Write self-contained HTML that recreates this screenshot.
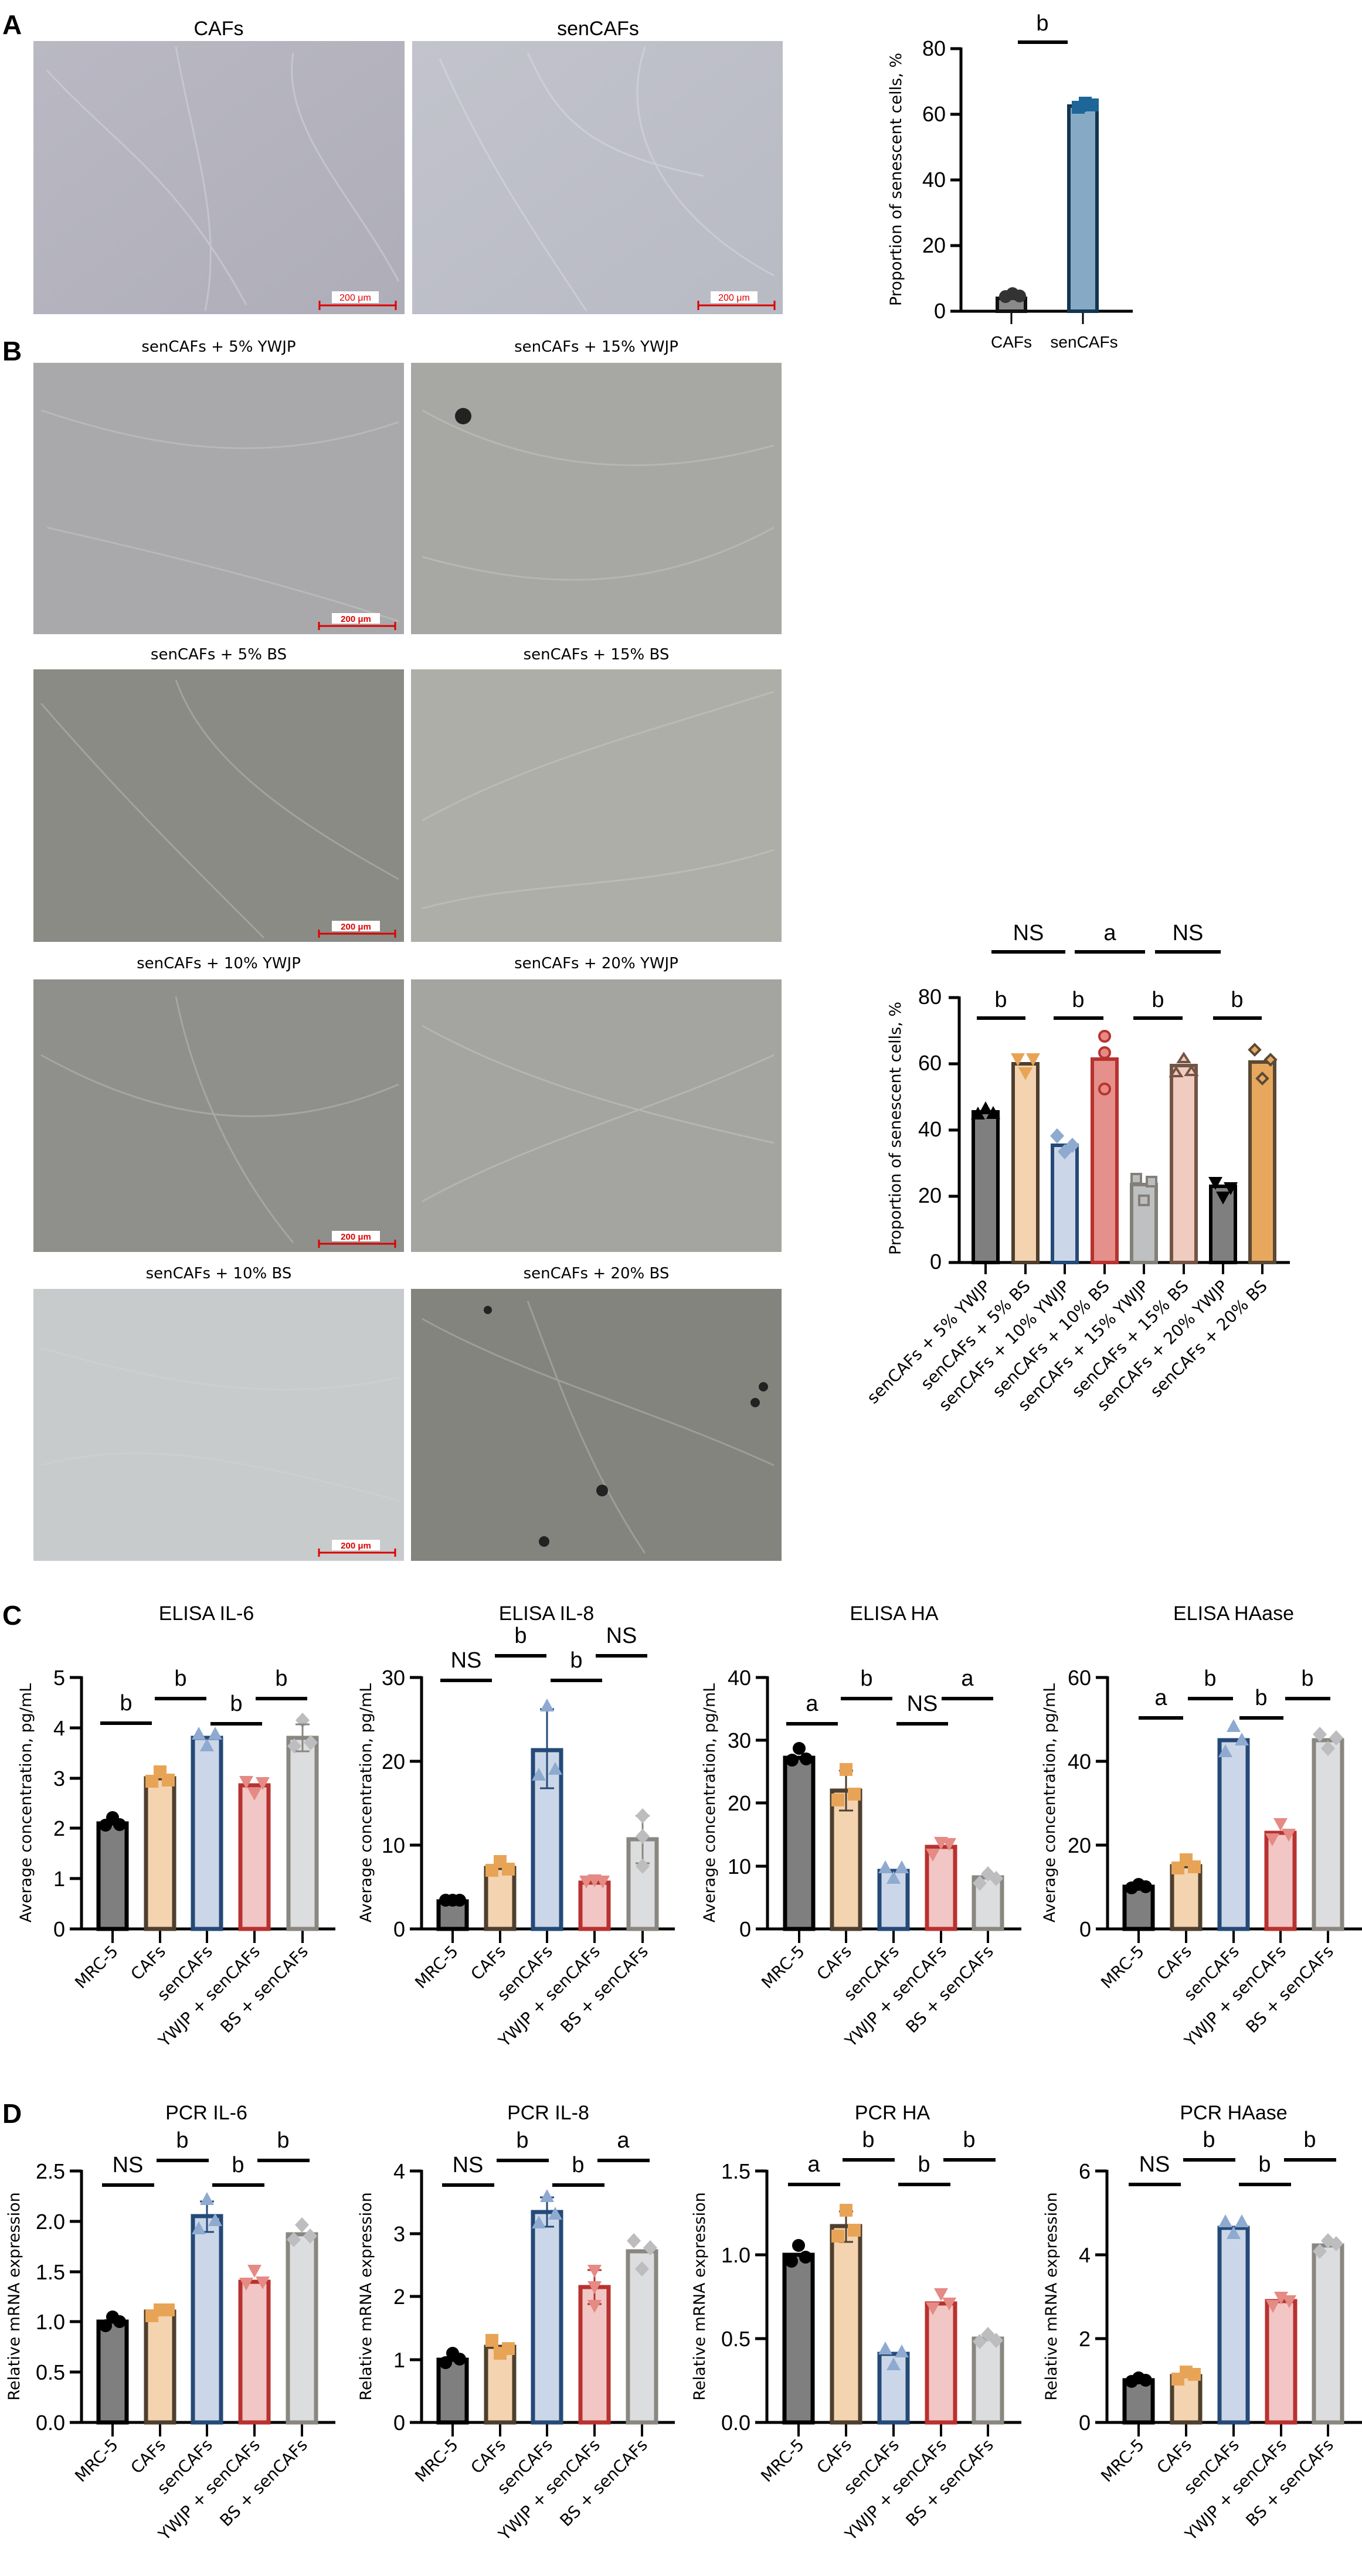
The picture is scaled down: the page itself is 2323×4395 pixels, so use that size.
<!DOCTYPE html>
<html><head><meta charset="utf-8"><style>
html,body{margin:0;padding:0;background:#fff}
svg{display:block}
.t{font-family:"Liberation Sans",sans-serif}
.d{font-family:"DejaVu Sans",sans-serif}
.tk{font-family:"Liberation Sans",sans-serif;font-size:36px;text-anchor:end}
.xl{font-family:"DejaVu Sans",sans-serif;font-size:28px;text-anchor:end}
.yl{font-family:"DejaVu Sans",sans-serif;font-size:27px;text-anchor:middle}
.sg{font-family:"Liberation Sans",sans-serif;font-size:38px;text-anchor:middle}
.ax{stroke:#000;stroke-width:5;fill:none}
.sl{stroke:#000;stroke-width:6}
.ttl{font-family:"Liberation Sans",sans-serif;font-size:34px;text-anchor:middle}
.pl{font-family:"DejaVu Sans",sans-serif;font-size:26px;text-anchor:middle}
.b1{fill:#7f7f7f;stroke:#000;stroke-width:7}
.b2{fill:#f3d3b0;stroke:#4e3f2e;stroke-width:7}
.b3{fill:#cbd7e8;stroke:#254a78;stroke-width:7}
.b4{fill:#f1c6c4;stroke:#b83230;stroke-width:7}
.b5{fill:#dcdddf;stroke:#8a8780;stroke-width:7}
.e1{stroke:#000;stroke-width:3}
.e2{stroke:#4e3f2e;stroke-width:3}
.e3{stroke:#254a78;stroke-width:3}
.e4{stroke:#b83230;stroke-width:3}
.e5{stroke:#8a8780;stroke-width:3}
</style></head><body>
<svg width="2323" height="4395" viewBox="0 0 2323 4395" xmlns="http://www.w3.org/2000/svg">
<defs>
<symbol id="mc" overflow="visible"><circle cx="0" cy="0" r="11"/></symbol>
<symbol id="ms" overflow="visible"><rect x="-11" y="-11" width="22" height="22"/></symbol>
<symbol id="mt" overflow="visible"><path d="M0,-13 L12,9 L-12,9Z"/></symbol>
<symbol id="mi" overflow="visible"><path d="M0,13 L12,-9 L-12,-9Z"/></symbol>
<symbol id="md" overflow="visible"><path d="M0,-13 L12,0 L0,13 L-12,0Z"/></symbol>
<linearGradient id="gA" x1="0" y1="0" x2="1" y2="1"><stop offset="0" stop-color="#b9b8c3"/><stop offset="1" stop-color="#aeadb8"/></linearGradient>
<linearGradient id="gA2" x1="0" y1="0" x2="1" y2="1"><stop offset="0" stop-color="#c2c3cc"/><stop offset="1" stop-color="#b8bac4"/></linearGradient>
</defs>

<text x="4" y="58" class="t" font-size="46" font-weight="bold">A</text>
<text x="4" y="615" class="t" font-size="46" font-weight="bold">B</text>
<text x="4" y="2772" class="t" font-size="46" font-weight="bold">C</text>
<text x="4" y="3622" class="t" font-size="46" font-weight="bold">D</text>

<text x="373" y="60" class="ttl">CAFs</text>
<text x="1020" y="60" class="ttl">senCAFs</text>
<rect x="57" y="70" width="633" height="466" fill="url(#gA)"/>
<rect x="703" y="70" width="632" height="466" fill="url(#gA2)"/>
<g stroke="#e8e8ee" stroke-width="3" fill="none" opacity="0.35">
<path d="M80,120 C200,250 300,300 420,520"/><path d="M300,80 C330,250 380,380 350,530"/><path d="M500,90 C480,220 600,330 680,480"/>
<path d="M750,100 C820,260 900,380 1000,530"/><path d="M1100,80 C1050,230 1150,380 1320,470"/><path d="M900,90 C950,200 1000,260 1200,300"/>
</g>
<g><rect x="566" y="497" width="80" height="20" fill="#fff"/><text x="606" y="513" class="t" font-size="16" fill="#d00" text-anchor="middle">200 μm</text><line x1="544" y1="521" x2="676" y2="521" stroke="#d00" stroke-width="3"/><line x1="545" y1="513" x2="545" y2="529" stroke="#d00" stroke-width="3"/><line x1="675" y1="513" x2="675" y2="529" stroke="#d00" stroke-width="3"/></g>
<g><rect x="1212" y="497" width="80" height="20" fill="#fff"/><text x="1252" y="513" class="t" font-size="16" fill="#d00" text-anchor="middle">200 μm</text><line x1="1190" y1="521" x2="1322" y2="521" stroke="#d00" stroke-width="3"/><line x1="1191" y1="513" x2="1191" y2="529" stroke="#d00" stroke-width="3"/><line x1="1321" y1="513" x2="1321" y2="529" stroke="#d00" stroke-width="3"/></g>

<g transform="translate(1639,531)">
<line class="ax" x1="0" y1="2" x2="0" y2="-450"/>
<line class="ax" x1="-14" y1="0" x2="293" y2="0"/>
<g class="ax"><line x1="-18" y1="0" x2="0" y2="0"/><line x1="-18" y1="-112" x2="0" y2="-112"/><line x1="-18" y1="-224" x2="0" y2="-224"/><line x1="-18" y1="-336" x2="0" y2="-336"/><line x1="-18" y1="-448" x2="0" y2="-448"/>
<line x1="86" y1="0" x2="86" y2="22" stroke-width="3"/><line x1="208" y1="0" x2="208" y2="22" stroke-width="3"/></g>
<g class="tk"><text x="-26" y="12">0</text><text x="-26" y="-100">20</text><text x="-26" y="-212">40</text><text x="-26" y="-324">60</text><text x="-26" y="-436">80</text></g>
<rect x="62" y="-22" width="48" height="22" fill="#8a8a8a" stroke="#111" stroke-width="6"/>
<rect x="184" y="-350" width="48" height="350" fill="#86aac6" stroke="#13354f" stroke-width="6"/>
<g fill="#333"><use href="#mc" x="76" y="-25"/><use href="#mc" x="88" y="-30"/><use href="#mc" x="100" y="-26"/></g>
<g fill="#1d6697"><use href="#ms" x="200" y="-348"/><use href="#ms" x="212" y="-355"/><use href="#ms" x="224" y="-352"/></g>
<line x1="212" y1="-362" x2="212" y2="-340" stroke="#1d6697" stroke-width="3"/>
<text x="86" y="62" class="ttl" style="font-size:28px">CAFs</text><text x="210" y="62" class="ttl" style="font-size:28px">senCAFs</text>
<text transform="translate(-102,-225) rotate(-90)" class="yl">Proportion of senescent cells, %</text>
</g>
<line x1="1736" y1="72" x2="1821" y2="72" class="sl"/><text x="1778" y="52" class="sg">b</text>

<text x="373" y="600" class="pl">senCAFs + 5% YWJP</text>
<text x="1017" y="600" class="pl">senCAFs + 15% YWJP</text>
<rect x="57" y="619" width="632" height="463" fill="#a9a9ab"/>
<rect x="701" y="619" width="632" height="463" fill="#a7a7a3"/>
<text x="373" y="1125" class="pl">senCAFs + 5% BS</text>
<text x="1017" y="1125" class="pl">senCAFs + 15% BS</text>
<rect x="57" y="1142" width="632" height="465" fill="#8b8b86"/>
<rect x="701" y="1142" width="632" height="465" fill="#aeaea8"/>
<text x="373" y="1652" class="pl">senCAFs + 10% YWJP</text>
<text x="1017" y="1652" class="pl">senCAFs + 20% YWJP</text>
<rect x="57" y="1671" width="632" height="465" fill="#8f8f8b"/>
<rect x="701" y="1671" width="632" height="465" fill="#a4a4a0"/>
<text x="373" y="2181" class="pl">senCAFs + 10% BS</text>
<text x="1017" y="2181" class="pl">senCAFs + 20% BS</text>
<rect x="57" y="2199" width="632" height="464" fill="#c8cbcb"/>
<rect x="701" y="2199" width="632" height="464" fill="#84847e"/>
<g stroke="#dcdcd8" stroke-width="3" fill="none" opacity="0.3">
<path d="M70,700 C250,760 450,800 680,720"/><path d="M80,900 C300,950 500,1000 680,1060"/><path d="M720,700 C900,800 1100,820 1320,760"/><path d="M720,950 C900,1000 1100,1020 1320,900"/>
<path d="M70,1200 C200,1350 300,1450 450,1600"/><path d="M300,1160 C350,1300 500,1400 680,1500"/><path d="M720,1400 C900,1300 1100,1250 1320,1180"/><path d="M720,1550 C900,1500 1100,1520 1320,1450"/>
<path d="M70,1800 C250,1900 450,1950 680,1850"/><path d="M300,1700 C330,1850 400,2000 500,2120"/><path d="M720,1750 C900,1850 1100,1900 1320,1950"/><path d="M720,2050 C900,1950 1100,1900 1320,1800"/>
<path d="M70,2300 C250,2350 450,2400 680,2350"/><path d="M70,2500 C250,2450 450,2500 680,2560"/><path d="M720,2250 C900,2350 1100,2400 1320,2500"/><path d="M900,2220 C950,2350 1000,2500 1100,2650"/>
</g>
<g fill="#222"><circle cx="790" cy="710" r="14"/><circle cx="1027" cy="2543" r="10"/><circle cx="832" cy="2235" r="7"/><circle cx="1302" cy="2366" r="8"/><circle cx="1288" cy="2393" r="8"/><circle cx="928" cy="2630" r="9"/></g>
<g id="sb1"><rect x="566" y="1046" width="82" height="18" fill="#fff"/><text x="607" y="1061" class="t" font-size="15" font-weight="bold" fill="#d00" text-anchor="middle">200 μm</text><line x1="543" y1="1068" x2="675" y2="1068" stroke="#d00" stroke-width="3"/><line x1="544" y1="1061" x2="544" y2="1075" stroke="#d00" stroke-width="3"/><line x1="674" y1="1061" x2="674" y2="1075" stroke="#d00" stroke-width="3"/></g>
<use href="#sb1" y="525"/><use href="#sb1" y="1054"/><use href="#sb1" y="1581"/>

<g transform="translate(1636,2154)">
<line class="ax" x1="0" y1="2" x2="0" y2="-454"/>
<line class="ax" x1="-14" y1="0" x2="564" y2="0"/>
<g class="ax"><line x1="-18" y1="0" x2="0" y2="0"/><line x1="-18" y1="-113" x2="0" y2="-113"/><line x1="-18" y1="-226" x2="0" y2="-226"/><line x1="-18" y1="-339" x2="0" y2="-339"/><line x1="-18" y1="-452" x2="0" y2="-452"/>
<g stroke-width="4"><line x1="45" y1="0" x2="45" y2="20"/><line x1="113" y1="0" x2="113" y2="20"/><line x1="180" y1="0" x2="180" y2="20"/><line x1="248" y1="0" x2="248" y2="20"/><line x1="315" y1="0" x2="315" y2="20"/><line x1="383" y1="0" x2="383" y2="20"/><line x1="450" y1="0" x2="450" y2="20"/><line x1="517" y1="0" x2="517" y2="20"/></g></g>
<g class="tk d"><text x="-30" y="11">0</text><text x="-30" y="-102">20</text><text x="-30" y="-215">40</text><text x="-30" y="-328">60</text><text x="-30" y="-441">80</text></g>
<rect x="24" y="-257" width="42" height="257" fill="#7f7f7f" stroke="#000" stroke-width="6"/>
<rect x="92" y="-339" width="42" height="339" fill="#f3d3b0" stroke="#4e3f2e" stroke-width="6"/>
<rect x="159" y="-200" width="42" height="200" fill="#cbd7e8" stroke="#254a78" stroke-width="6"/>
<rect x="227" y="-347" width="42" height="347" fill="#e5908a" stroke="#b83230" stroke-width="6"/>
<rect x="294" y="-133" width="42" height="133" fill="#bec0c2" stroke="#838079" stroke-width="6"/>
<rect x="362" y="-336" width="42" height="336" fill="#f0cbbf" stroke="#735545" stroke-width="6"/>
<rect x="429" y="-130" width="42" height="130" fill="#7f7f7f" stroke="#000" stroke-width="6"/>
<rect x="496" y="-342" width="42" height="342" fill="#e7a85e" stroke="#5a4934" stroke-width="6"/>
<g fill="#000"><use href="#mt" x="32" y="-253"/><use href="#mt" x="45" y="-262"/><use href="#mt" x="58" y="-254"/></g>
<g fill="#e8a456"><use href="#mi" x="100" y="-348"/><use href="#mi" x="113" y="-324"/><use href="#mi" x="126" y="-348"/></g>
<g fill="#8eaad0"><use href="#md" x="167" y="-216"/><use href="#md" x="180" y="-189"/><use href="#md" x="193" y="-200"/></g>
<g fill="#e58a84" stroke="#b83230" stroke-width="4"><circle cx="248" cy="-386" r="9"/><circle cx="248" cy="-358" r="9"/><circle cx="248" cy="-296" r="9"/></g>
<g fill="#bdbdc0" stroke="#838079" stroke-width="4"><rect x="294" y="-151" width="16" height="16"/><rect x="320" y="-146" width="16" height="16"/><rect x="307" y="-114" width="16" height="16"/></g>
<g fill="#f0cbbf" stroke="#735545" stroke-width="4"><path d="M383,-356 l9,14 h-18z"/><path d="M370,-332 l9,14 h-18z"/><path d="M396,-334 l9,14 h-18z"/></g>
<g fill="#000"><use href="#mi" x="437" y="-137"/><use href="#mi" x="450" y="-112"/><use href="#mi" x="463" y="-128"/></g>
<g fill="#e7a85e" stroke="#5a4934" stroke-width="4"><path d="M504,-372 l9,9 l-9,9 l-9,-9z"/><path d="M531,-355 l9,9 l-9,9 l-9,-9z"/><path d="M517,-323 l9,9 l-9,9 l-9,-9z"/></g>
<g class="xl">
<text transform="translate(55,42) rotate(-45)">senCAFs + 5% YWJP</text>
<text transform="translate(123,42) rotate(-45)">senCAFs + 5% BS</text>
<text transform="translate(190,42) rotate(-45)">senCAFs + 10% YWJP</text>
<text transform="translate(258,42) rotate(-45)">senCAFs + 10% BS</text>
<text transform="translate(325,42) rotate(-45)">senCAFs + 15% YWJP</text>
<text transform="translate(393,42) rotate(-45)">senCAFs + 15% BS</text>
<text transform="translate(460,42) rotate(-45)">senCAFs + 20% YWJP</text>
<text transform="translate(527,42) rotate(-45)">senCAFs + 20% BS</text>
</g>
<text transform="translate(-100,-229) rotate(-90)" class="yl">Proportion of senescent cells, %</text>
</g>
<g class="sl"><line x1="1666" y1="1737" x2="1749" y2="1737"/><line x1="1797" y1="1737" x2="1882" y2="1737"/><line x1="1933" y1="1737" x2="2017" y2="1737"/><line x1="2069" y1="1737" x2="2152" y2="1737"/>
<line x1="1691" y1="1624" x2="1817" y2="1624"/><line x1="1833" y1="1624" x2="1953" y2="1624"/><line x1="1970" y1="1624" x2="2082" y2="1624"/></g>
<g class="sg d"><text x="1707" y="1718">b</text><text x="1839" y="1718">b</text><text x="1975" y="1718">b</text><text x="2110" y="1718">b</text>
<text x="1754" y="1604">NS</text><text x="1893" y="1604">a</text><text x="2026" y="1604">NS</text></g>

<text x="352" y="2764" class="ttl">ELISA IL-6</text>
<g transform="translate(139,3291)">
<line class="ax" x1="0" y1="2" x2="0" y2="-431"/><line class="ax" x1="-20" y1="0" x2="433" y2="0"/>
<g class="ax"><line x1="-20" y1="-86" x2="0" y2="-86"/><line x1="-20" y1="-172" x2="0" y2="-172"/><line x1="-20" y1="-257" x2="0" y2="-257"/><line x1="-20" y1="-343" x2="0" y2="-343"/><line x1="-20" y1="-429" x2="0" y2="-429"/>
<g stroke-width="4"><line x1="53" y1="0" x2="53" y2="24"/><line x1="134" y1="0" x2="134" y2="24"/><line x1="214" y1="0" x2="214" y2="24"/><line x1="295" y1="0" x2="295" y2="24"/><line x1="377" y1="0" x2="377" y2="24"/></g></g>
<g class="tk"><text x="-28" y="13">0</text><text x="-28" y="-73">1</text><text x="-28" y="-159">2</text><text x="-28" y="-244">3</text><text x="-28" y="-330">4</text><text x="-28" y="-416">5</text></g>
<rect class="b1" x="29" y="-180" width="48" height="180"/><rect class="b2" x="110" y="-257" width="48" height="257"/><rect class="b3" x="190" y="-326" width="48" height="326"/><rect class="b4" x="271" y="-245" width="48" height="245"/><rect class="b5" x="353" y="-326" width="48" height="326"/>
<g fill="#000"><use href="#mc" x="41" y="-177"/><use href="#mc" x="53" y="-190"/><use href="#mc" x="65" y="-178"/></g>
<g fill="#e8a456"><use href="#ms" x="120" y="-252"/><use href="#ms" x="134" y="-268"/><use href="#ms" x="148" y="-254"/></g>
<g fill="#8eaad0"><use href="#mt" x="200" y="-332"/><use href="#mt" x="214" y="-312"/><use href="#mt" x="228" y="-332"/></g>
<g fill="#e58a84"><use href="#mi" x="281" y="-252"/><use href="#mi" x="295" y="-232"/><use href="#mi" x="309" y="-250"/></g>
<g fill="#bdbdc0"><use href="#md" x="363" y="-312"/><use href="#md" x="377" y="-356"/><use href="#md" x="391" y="-318"/></g>
<line class="e5" x1="377" y1="-349" x2="377" y2="-303"/><line class="e5" x1="365" y1="-349" x2="389" y2="-349"/><line class="e5" x1="365" y1="-303" x2="389" y2="-303"/>
<g class="xl"><text transform="translate(64,40) rotate(-45)">MRC-5</text><text transform="translate(145,40) rotate(-45)">CAFs</text><text transform="translate(225,40) rotate(-45)">senCAFs</text><text transform="translate(306,40) rotate(-45)">YWJP + senCAFs</text><text transform="translate(388,40) rotate(-45)">BS + senCAFs</text></g>
<text transform="translate(-86,-215) rotate(-90)" class="yl">Average concentration, pg/mL</text>
<g class="sl"><line x1="32" y1="-351" x2="120" y2="-351"/><line x1="125" y1="-393" x2="213" y2="-393"/><line x1="220" y1="-350" x2="308" y2="-350"/><line x1="297" y1="-393" x2="385" y2="-393"/></g>
<g class="sg"><text x="76" y="-373">b</text><text x="169" y="-415">b</text><text x="264" y="-372">b</text><text x="341" y="-415">b</text></g>
</g>

<text x="932" y="2764" class="ttl">ELISA IL-8</text>
<g transform="translate(719,3291)">
<line class="ax" x1="0" y1="2" x2="0" y2="-431"/><line class="ax" x1="-20" y1="0" x2="432" y2="0"/>
<g class="ax"><line x1="-20" y1="-143" x2="0" y2="-143"/><line x1="-20" y1="-286" x2="0" y2="-286"/><line x1="-20" y1="-429" x2="0" y2="-429"/>
<g stroke-width="4"><line x1="53" y1="0" x2="53" y2="24"/><line x1="134" y1="0" x2="134" y2="24"/><line x1="214" y1="0" x2="214" y2="24"/><line x1="295" y1="0" x2="295" y2="24"/><line x1="377" y1="0" x2="377" y2="24"/></g></g>
<g class="tk"><text x="-28" y="13">0</text><text x="-28" y="-130">10</text><text x="-28" y="-273">20</text><text x="-28" y="-416">30</text></g>
<rect class="b1" x="29" y="-47" width="48" height="47"/><rect class="b2" x="110" y="-104" width="48" height="104"/><rect class="b3" x="190" y="-305" width="48" height="305"/><rect class="b4" x="271" y="-79" width="48" height="79"/><rect class="b5" x="353" y="-153" width="48" height="153"/>
<g fill="#000"><use href="#mc" x="41" y="-49"/><use href="#mc" x="53" y="-49"/><use href="#mc" x="65" y="-49"/></g>
<g fill="#e8a456"><use href="#ms" x="120" y="-100"/><use href="#ms" x="134" y="-115"/><use href="#ms" x="148" y="-102"/></g>
<line class="e3" x1="214" y1="-375" x2="214" y2="-240"/><line class="e3" x1="202" y1="-375" x2="226" y2="-375"/><line class="e3" x1="202" y1="-240" x2="226" y2="-240"/>
<g fill="#8eaad0"><use href="#mt" x="200" y="-262"/><use href="#mt" x="214" y="-380"/><use href="#mt" x="228" y="-272"/></g>
<g fill="#e58a84"><use href="#mi" x="281" y="-82"/><use href="#mi" x="295" y="-84"/><use href="#mi" x="309" y="-82"/></g>
<line class="e5" x1="377" y1="-193" x2="377" y2="-112"/><line class="e5" x1="365" y1="-193" x2="389" y2="-193"/><line class="e5" x1="365" y1="-112" x2="389" y2="-112"/>
<g fill="#bdbdc0"><use href="#md" x="377" y="-193"/><use href="#md" x="377" y="-158"/><use href="#md" x="377" y="-107"/></g>
<g class="xl"><text transform="translate(64,40) rotate(-45)">MRC-5</text><text transform="translate(145,40) rotate(-45)">CAFs</text><text transform="translate(225,40) rotate(-45)">senCAFs</text><text transform="translate(306,40) rotate(-45)">YWJP + senCAFs</text><text transform="translate(388,40) rotate(-45)">BS + senCAFs</text></g>
<text transform="translate(-86,-215) rotate(-90)" class="yl">Average concentration, pg/mL</text>
<g class="sl"><line x1="32" y1="-424" x2="120" y2="-424"/><line x1="125" y1="-466" x2="213" y2="-466"/><line x1="220" y1="-424" x2="308" y2="-424"/><line x1="297" y1="-466" x2="385" y2="-466"/></g>
<g class="sg"><text x="76" y="-446">NS</text><text x="169" y="-488">b</text><text x="264" y="-446">b</text><text x="341" y="-488">NS</text></g>
</g>

<text x="1525" y="2764" class="ttl">ELISA HA</text>
<g transform="translate(1309,3291)">
<line class="ax" x1="0" y1="2" x2="0" y2="-431"/><line class="ax" x1="-20" y1="0" x2="433" y2="0"/>
<g class="ax"><line x1="-20" y1="-107" x2="0" y2="-107"/><line x1="-20" y1="-215" x2="0" y2="-215"/><line x1="-20" y1="-322" x2="0" y2="-322"/><line x1="-20" y1="-429" x2="0" y2="-429"/>
<g stroke-width="4"><line x1="54" y1="0" x2="54" y2="24"/><line x1="134" y1="0" x2="134" y2="24"/><line x1="215" y1="0" x2="215" y2="24"/><line x1="296" y1="0" x2="296" y2="24"/><line x1="376" y1="0" x2="376" y2="24"/></g></g>
<g class="tk"><text x="-28" y="13">0</text><text x="-28" y="-94">10</text><text x="-28" y="-202">20</text><text x="-28" y="-309">30</text><text x="-28" y="-416">40</text></g>
<rect class="b1" x="30" y="-292" width="48" height="292"/><rect class="b2" x="110" y="-236" width="48" height="236"/><rect class="b3" x="191" y="-99" width="48" height="99"/><rect class="b4" x="272" y="-140" width="48" height="140"/><rect class="b5" x="352" y="-88" width="48" height="88"/>
<g fill="#000"><use href="#mc" x="42" y="-288"/><use href="#mc" x="54" y="-308"/><use href="#mc" x="66" y="-290"/></g>
<line class="e2" x1="134" y1="-270" x2="134" y2="-202"/><line class="e2" x1="122" y1="-270" x2="146" y2="-270"/><line class="e2" x1="122" y1="-202" x2="146" y2="-202"/>
<g fill="#e8a456"><use href="#ms" x="120" y="-220"/><use href="#ms" x="134" y="-272"/><use href="#ms" x="148" y="-230"/></g>
<g fill="#8eaad0"><use href="#mt" x="201" y="-104"/><use href="#mt" x="215" y="-86"/><use href="#mt" x="229" y="-104"/></g>
<g fill="#e58a84"><use href="#mi" x="282" y="-128"/><use href="#mi" x="296" y="-148"/><use href="#mi" x="310" y="-146"/></g>
<g fill="#bdbdc0"><use href="#md" x="362" y="-78"/><use href="#md" x="376" y="-94"/><use href="#md" x="390" y="-86"/></g>
<g class="xl"><text transform="translate(65,40) rotate(-45)">MRC-5</text><text transform="translate(145,40) rotate(-45)">CAFs</text><text transform="translate(226,40) rotate(-45)">senCAFs</text><text transform="translate(307,40) rotate(-45)">YWJP + senCAFs</text><text transform="translate(387,40) rotate(-45)">BS + senCAFs</text></g>
<text transform="translate(-90,-215) rotate(-90)" class="yl">Average concentration, pg/mL</text>
<g class="sl"><line x1="32" y1="-350" x2="120" y2="-350"/><line x1="125" y1="-393" x2="213" y2="-393"/><line x1="220" y1="-350" x2="308" y2="-350"/><line x1="297" y1="-393" x2="385" y2="-393"/></g>
<g class="sg"><text x="76" y="-372">a</text><text x="169" y="-415">b</text><text x="264" y="-372">NS</text><text x="341" y="-415">a</text></g>
</g>

<text x="2104" y="2764" class="ttl">ELISA HAase</text>
<g transform="translate(1889,3291)">
<line class="ax" x1="0" y1="2" x2="0" y2="-431"/><line class="ax" x1="-20" y1="0" x2="434" y2="0"/>
<g class="ax"><line x1="-20" y1="-143" x2="0" y2="-143"/><line x1="-20" y1="-286" x2="0" y2="-286"/><line x1="-20" y1="-429" x2="0" y2="-429"/>
<g stroke-width="4"><line x1="53" y1="0" x2="53" y2="24"/><line x1="134" y1="0" x2="134" y2="24"/><line x1="215" y1="0" x2="215" y2="24"/><line x1="295" y1="0" x2="295" y2="24"/><line x1="376" y1="0" x2="376" y2="24"/></g></g>
<g class="tk"><text x="-28" y="13">0</text><text x="-28" y="-130">20</text><text x="-28" y="-273">40</text><text x="-28" y="-416">60</text></g>
<rect class="b1" x="29" y="-72" width="48" height="72"/><rect class="b2" x="110" y="-107" width="48" height="107"/><rect class="b3" x="191" y="-322" width="48" height="322"/><rect class="b4" x="271" y="-164" width="48" height="164"/><rect class="b5" x="352" y="-322" width="48" height="322"/>
<g fill="#000"><use href="#mc" x="41" y="-70"/><use href="#mc" x="53" y="-76"/><use href="#mc" x="65" y="-72"/></g>
<g fill="#e8a456"><use href="#ms" x="120" y="-104"/><use href="#ms" x="134" y="-118"/><use href="#ms" x="148" y="-106"/></g>
<g fill="#8eaad0"><use href="#mt" x="201" y="-302"/><use href="#mt" x="215" y="-345"/><use href="#mt" x="229" y="-322"/></g>
<g fill="#e58a84"><use href="#mi" x="281" y="-154"/><use href="#mi" x="295" y="-180"/><use href="#mi" x="309" y="-162"/></g>
<g fill="#bdbdc0"><use href="#md" x="362" y="-332"/><use href="#md" x="376" y="-308"/><use href="#md" x="390" y="-326"/></g>
<g class="xl"><text transform="translate(64,40) rotate(-45)">MRC-5</text><text transform="translate(145,40) rotate(-45)">CAFs</text><text transform="translate(226,40) rotate(-45)">senCAFs</text><text transform="translate(306,40) rotate(-45)">YWJP + senCAFs</text><text transform="translate(387,40) rotate(-45)">BS + senCAFs</text></g>
<text transform="translate(-90,-215) rotate(-90)" class="yl">Average concentration, pg/mL</text>
<g class="sl"><line x1="53" y1="-360" x2="129" y2="-360"/><line x1="137" y1="-393" x2="214" y2="-393"/><line x1="225" y1="-360" x2="300" y2="-360"/><line x1="303" y1="-393" x2="380" y2="-393"/></g>
<g class="sg"><text x="91" y="-382">a</text><text x="175" y="-415">b</text><text x="262" y="-382">b</text><text x="341" y="-415">b</text></g>
</g>

<text x="352" y="3616" class="ttl">PCR IL-6</text>
<g transform="translate(139,4133)">
<line class="ax" x1="0" y1="2" x2="0" y2="-431"/><line class="ax" x1="-20" y1="0" x2="433" y2="0"/>
<g class="ax"><line x1="-20" y1="-86" x2="0" y2="-86"/><line x1="-20" y1="-172" x2="0" y2="-172"/><line x1="-20" y1="-257" x2="0" y2="-257"/><line x1="-20" y1="-343" x2="0" y2="-343"/><line x1="-20" y1="-429" x2="0" y2="-429"/>
<g stroke-width="4"><line x1="53" y1="0" x2="53" y2="24"/><line x1="134" y1="0" x2="134" y2="24"/><line x1="214" y1="0" x2="214" y2="24"/><line x1="295" y1="0" x2="295" y2="24"/><line x1="376" y1="0" x2="376" y2="24"/></g></g>
<g class="tk"><text x="-28" y="13">0.0</text><text x="-28" y="-73">0.5</text><text x="-28" y="-159">1.0</text><text x="-28" y="-244">1.5</text><text x="-28" y="-330">2.0</text><text x="-28" y="-416">2.5</text></g>
<rect class="b1" x="29" y="-172" width="48" height="172"/><rect class="b2" x="110" y="-189" width="48" height="189"/><rect class="b3" x="190" y="-352" width="48" height="352"/><rect class="b4" x="271" y="-240" width="48" height="240"/><rect class="b5" x="352" y="-321" width="48" height="321"/>
<g fill="#000"><use href="#mc" x="41" y="-165"/><use href="#mc" x="53" y="-180"/><use href="#mc" x="65" y="-172"/></g>
<g fill="#e8a456"><use href="#ms" x="120" y="-182"/><use href="#ms" x="134" y="-192"/><use href="#ms" x="148" y="-192"/></g>
<line class="e3" x1="214" y1="-377" x2="214" y2="-325"/><line class="e3" x1="202" y1="-377" x2="226" y2="-377"/><line class="e3" x1="202" y1="-325" x2="226" y2="-325"/>
<g fill="#8eaad0"><use href="#mt" x="200" y="-330"/><use href="#mt" x="214" y="-380"/><use href="#mt" x="228" y="-344"/></g>
<g fill="#e58a84"><use href="#mi" x="281" y="-238"/><use href="#mi" x="295" y="-260"/><use href="#mi" x="309" y="-240"/></g>
<g fill="#bdbdc0"><use href="#md" x="362" y="-312"/><use href="#md" x="376" y="-337"/><use href="#md" x="390" y="-318"/></g>
<g class="xl"><text transform="translate(64,40) rotate(-45)">MRC-5</text><text transform="translate(145,40) rotate(-45)">CAFs</text><text transform="translate(225,40) rotate(-45)">senCAFs</text><text transform="translate(306,40) rotate(-45)">YWJP + senCAFs</text><text transform="translate(387,40) rotate(-45)">BS + senCAFs</text></g>
<text transform="translate(-106,-215) rotate(-90)" class="yl">Relative mRNA expression</text>
<g class="sl"><line x1="35" y1="-405" x2="124" y2="-405"/><line x1="128" y1="-447" x2="217" y2="-447"/><line x1="223" y1="-405" x2="312" y2="-405"/><line x1="300" y1="-447" x2="389" y2="-447"/></g>
<g class="sg"><text x="79" y="-427">NS</text><text x="172" y="-469">b</text><text x="267" y="-427">b</text><text x="344" y="-469">b</text></g>
</g>

<text x="935" y="3616" class="ttl">PCR IL-8</text>
<g transform="translate(719,4133)">
<line class="ax" x1="0" y1="2" x2="0" y2="-431"/><line class="ax" x1="-20" y1="0" x2="432" y2="0"/>
<g class="ax"><line x1="-20" y1="-107" x2="0" y2="-107"/><line x1="-20" y1="-215" x2="0" y2="-215"/><line x1="-20" y1="-322" x2="0" y2="-322"/><line x1="-20" y1="-429" x2="0" y2="-429"/>
<g stroke-width="4"><line x1="53" y1="0" x2="53" y2="24"/><line x1="134" y1="0" x2="134" y2="24"/><line x1="214" y1="0" x2="214" y2="24"/><line x1="295" y1="0" x2="295" y2="24"/><line x1="376" y1="0" x2="376" y2="24"/></g></g>
<g class="tk"><text x="-28" y="13">0</text><text x="-28" y="-94">1</text><text x="-28" y="-202">2</text><text x="-28" y="-309">3</text><text x="-28" y="-416">4</text></g>
<rect class="b1" x="29" y="-107" width="48" height="107"/><rect class="b2" x="110" y="-129" width="48" height="129"/><rect class="b3" x="190" y="-359" width="48" height="359"/><rect class="b4" x="271" y="-231" width="48" height="231"/><rect class="b5" x="352" y="-292" width="48" height="292"/>
<g fill="#000"><use href="#mc" x="41" y="-102"/><use href="#mc" x="53" y="-118"/><use href="#mc" x="65" y="-108"/></g>
<g fill="#e8a456"><use href="#ms" x="120" y="-140"/><use href="#ms" x="134" y="-118"/><use href="#ms" x="148" y="-126"/></g>
<line class="e3" x1="214" y1="-384" x2="214" y2="-334"/><line class="e3" x1="202" y1="-384" x2="226" y2="-384"/><line class="e3" x1="202" y1="-334" x2="226" y2="-334"/>
<g fill="#8eaad0"><use href="#mt" x="200" y="-340"/><use href="#mt" x="214" y="-385"/><use href="#mt" x="228" y="-355"/></g>
<line class="e4" x1="295" y1="-260" x2="295" y2="-202"/><line class="e4" x1="283" y1="-260" x2="307" y2="-260"/><line class="e4" x1="283" y1="-202" x2="307" y2="-202"/>
<g fill="#e58a84"><use href="#mi" x="295" y="-260"/><use href="#mi" x="295" y="-232"/><use href="#mi" x="295" y="-200"/></g>
<g fill="#bdbdc0"><use href="#md" x="362" y="-310"/><use href="#md" x="376" y="-262"/><use href="#md" x="390" y="-298"/></g>
<g class="xl"><text transform="translate(64,40) rotate(-45)">MRC-5</text><text transform="translate(145,40) rotate(-45)">CAFs</text><text transform="translate(225,40) rotate(-45)">senCAFs</text><text transform="translate(306,40) rotate(-45)">YWJP + senCAFs</text><text transform="translate(387,40) rotate(-45)">BS + senCAFs</text></g>
<text transform="translate(-86,-215) rotate(-90)" class="yl">Relative mRNA expression</text>
<g class="sl"><line x1="35" y1="-405" x2="124" y2="-405"/><line x1="128" y1="-447" x2="217" y2="-447"/><line x1="223" y1="-405" x2="312" y2="-405"/><line x1="300" y1="-447" x2="389" y2="-447"/></g>
<g class="sg"><text x="79" y="-427">NS</text><text x="172" y="-469">b</text><text x="267" y="-427">b</text><text x="344" y="-469">a</text></g>
</g>

<text x="1522" y="3616" class="ttl">PCR HA</text>
<g transform="translate(1308,4133)">
<line class="ax" x1="0" y1="2" x2="0" y2="-431"/><line class="ax" x1="-20" y1="0" x2="434" y2="0"/>
<g class="ax"><line x1="-20" y1="-143" x2="0" y2="-143"/><line x1="-20" y1="-286" x2="0" y2="-286"/><line x1="-20" y1="-429" x2="0" y2="-429"/>
<g stroke-width="4"><line x1="54" y1="0" x2="54" y2="24"/><line x1="135" y1="0" x2="135" y2="24"/><line x1="216" y1="0" x2="216" y2="24"/><line x1="297" y1="0" x2="297" y2="24"/><line x1="377" y1="0" x2="377" y2="24"/></g></g>
<g class="tk"><text x="-28" y="13">0.0</text><text x="-28" y="-130">0.5</text><text x="-28" y="-273">1.0</text><text x="-28" y="-416">1.5</text></g>
<rect class="b1" x="30" y="-286" width="48" height="286"/><rect class="b2" x="111" y="-335" width="48" height="335"/><rect class="b3" x="192" y="-117" width="48" height="117"/><rect class="b4" x="273" y="-203" width="48" height="203"/><rect class="b5" x="353" y="-143" width="48" height="143"/>
<g fill="#000"><use href="#mc" x="42" y="-275"/><use href="#mc" x="54" y="-302"/><use href="#mc" x="66" y="-282"/></g>
<line class="e2" x1="135" y1="-360" x2="135" y2="-308"/><line class="e2" x1="123" y1="-360" x2="147" y2="-360"/><line class="e2" x1="123" y1="-308" x2="147" y2="-308"/>
<g fill="#e8a456"><use href="#ms" x="121" y="-318"/><use href="#ms" x="135" y="-362"/><use href="#ms" x="149" y="-328"/></g>
<g fill="#8eaad0"><use href="#mt" x="202" y="-125"/><use href="#mt" x="216" y="-98"/><use href="#mt" x="230" y="-120"/></g>
<g fill="#e58a84"><use href="#mi" x="283" y="-196"/><use href="#mi" x="297" y="-220"/><use href="#mi" x="311" y="-204"/></g>
<g fill="#bdbdc0"><use href="#md" x="363" y="-138"/><use href="#md" x="377" y="-150"/><use href="#md" x="391" y="-140"/></g>
<g class="xl"><text transform="translate(65,40) rotate(-45)">MRC-5</text><text transform="translate(146,40) rotate(-45)">CAFs</text><text transform="translate(227,40) rotate(-45)">senCAFs</text><text transform="translate(308,40) rotate(-45)">YWJP + senCAFs</text><text transform="translate(388,40) rotate(-45)">BS + senCAFs</text></g>
<text transform="translate(-106,-215) rotate(-90)" class="yl">Relative mRNA expression</text>
<g class="sl"><line x1="36" y1="-406" x2="125" y2="-406"/><line x1="129" y1="-448" x2="218" y2="-448"/><line x1="224" y1="-406" x2="313" y2="-406"/><line x1="301" y1="-448" x2="390" y2="-448"/></g>
<g class="sg"><text x="80" y="-428">a</text><text x="173" y="-470">b</text><text x="268" y="-428">b</text><text x="345" y="-470">b</text></g>
</g>

<text x="2104" y="3616" class="ttl">PCR HAase</text>
<g transform="translate(1888,4133)">
<line class="ax" x1="0" y1="2" x2="0" y2="-431"/><line class="ax" x1="-20" y1="0" x2="435" y2="0"/>
<g class="ax"><line x1="-20" y1="-143" x2="0" y2="-143"/><line x1="-20" y1="-286" x2="0" y2="-286"/><line x1="-20" y1="-429" x2="0" y2="-429"/>
<g stroke-width="4"><line x1="54" y1="0" x2="54" y2="24"/><line x1="135" y1="0" x2="135" y2="24"/><line x1="216" y1="0" x2="216" y2="24"/><line x1="297" y1="0" x2="297" y2="24"/><line x1="377" y1="0" x2="377" y2="24"/></g></g>
<g class="tk"><text x="-28" y="13">0</text><text x="-28" y="-130">2</text><text x="-28" y="-273">4</text><text x="-28" y="-416">6</text></g>
<rect class="b1" x="30" y="-72" width="48" height="72"/><rect class="b2" x="111" y="-79" width="48" height="79"/><rect class="b3" x="192" y="-332" width="48" height="332"/><rect class="b4" x="273" y="-207" width="48" height="207"/><rect class="b5" x="353" y="-302" width="48" height="302"/>
<g fill="#000"><use href="#mc" x="42" y="-70"/><use href="#mc" x="54" y="-76"/><use href="#mc" x="66" y="-72"/></g>
<g fill="#e8a456"><use href="#ms" x="121" y="-74"/><use href="#ms" x="135" y="-86"/><use href="#ms" x="149" y="-82"/></g>
<g fill="#8eaad0"><use href="#mt" x="202" y="-342"/><use href="#mt" x="216" y="-322"/><use href="#mt" x="230" y="-342"/></g>
<g fill="#e58a84"><use href="#mi" x="283" y="-200"/><use href="#mi" x="297" y="-214"/><use href="#mi" x="311" y="-208"/></g>
<g fill="#bdbdc0"><use href="#md" x="363" y="-292"/><use href="#md" x="377" y="-310"/><use href="#md" x="391" y="-305"/></g>
<g class="xl"><text transform="translate(65,40) rotate(-45)">MRC-5</text><text transform="translate(146,40) rotate(-45)">CAFs</text><text transform="translate(227,40) rotate(-45)">senCAFs</text><text transform="translate(308,40) rotate(-45)">YWJP + senCAFs</text><text transform="translate(388,40) rotate(-45)">BS + senCAFs</text></g>
<text transform="translate(-86,-215) rotate(-90)" class="yl">Relative mRNA expression</text>
<g class="sl"><line x1="37" y1="-406" x2="126" y2="-406"/><line x1="130" y1="-448" x2="219" y2="-448"/><line x1="225" y1="-406" x2="314" y2="-406"/><line x1="302" y1="-448" x2="391" y2="-448"/></g>
<g class="sg"><text x="81" y="-428">NS</text><text x="174" y="-470">b</text><text x="269" y="-428">b</text><text x="346" y="-470">b</text></g>
</g>
</svg>
</body></html>
